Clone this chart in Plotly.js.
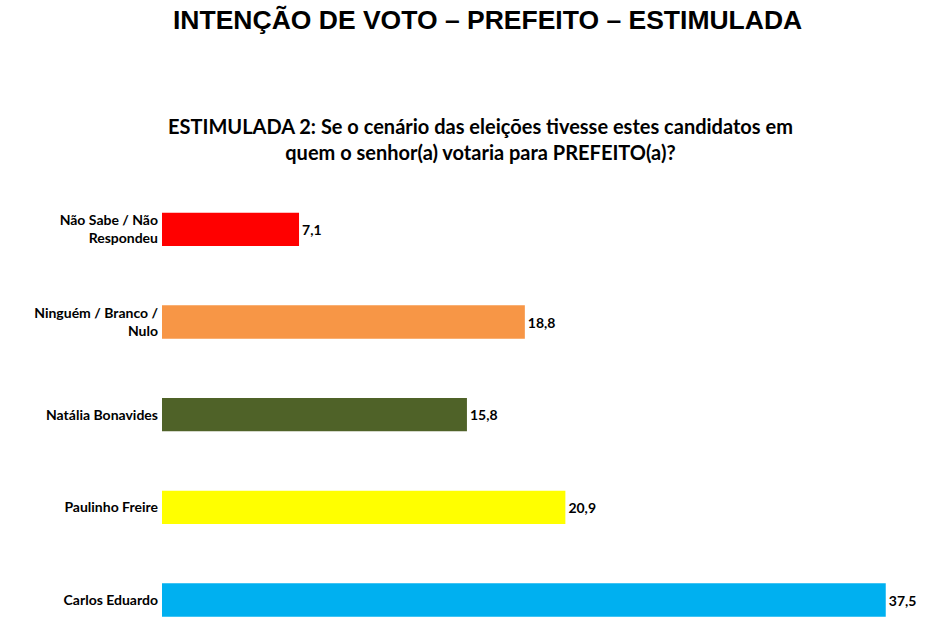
<!DOCTYPE html>
<html>
<head>
<meta charset="utf-8">
<script src="https://cdn.plot.ly/plotly-3.0.1.min.js"></script>
<style>
  html, body { margin: 0; padding: 0; background: white; }
  #chart { width: 950px; height: 629px; }
</style>
</head>
<body>
<div id="chart"></div>
<script>
// Stimulated vote intention - horizontal bars (bottom to top)
const candidates = [
    'Carlos Eduardo',
    'Paulinho Freire',
    'Natália Bonavides',
    'Ninguém / Branco /<br>Nulo',
    'Não Sabe / Não<br>Respondeu'
];
const votes = [37.5, 20.9, 15.8, 18.8, 7.1];
const barColors = ['#00B0F0', '#FFFF00', '#4F6228', '#F79646', '#FF0000'];

const mainTitle = 'INTENÇÃO DE VOTO – PREFEITO – ESTIMULADA';
const subTitle = 'ESTIMULADA 2: Se o cenário das eleições tivesse estes candidatos em<br>quem o senhor(a) votaria para PREFEITO(a)?';

const barData = [{
    type: 'bar',
    orientation: 'h',
    y: candidates,
    x: votes,
    marker: {color: barColors},
    texttemplate: '%{x:.1f}',
    textposition: 'outside',
    cliponaxis: false,
    textfont: {family: 'Lato, sans-serif', size: 14, color: '#000000', weight: 'bold'},
    hoverinfo: 'skip'
}];

const layout = {
    width: 950,
    height: 629,
    separators: ',.',
    bargap: 0.64,
    showlegend: false,
    margin: {l: 162, r: 16, t: 183, b: 0},
    xaxis: {
        range: [0, 40],
        visible: false,
        fixedrange: true
    },
    yaxis: {
        type: 'category',
        range: [-0.313, 4.5],
        showgrid: false,
        zeroline: false,
        showline: false,
        ticks: '',
        ticklabelstandoff: 3,
        tickfont: {family: 'Lato, sans-serif', size: 14, color: '#000000', weight: 'bold'}
    },
    annotations: [
        {
            text: '<b>' + mainTitle + '</b>',
            xref: 'paper', yref: 'paper',
            x: 0.5, xshift: -61, y: 1, yshift: 163,
            yanchor: 'middle', xanchor: 'center',
            showarrow: false,
            font: {family: 'Liberation Sans, Arial, sans-serif', size: 26.5, color: '#000000'}
        },
        {
            text: '<b>' + subTitle + '</b>',
            xref: 'paper', yref: 'paper',
            x: 0.5, xshift: -68, y: 1, yshift: 44,
            yanchor: 'middle', xanchor: 'center',
            showarrow: false,
            font: {family: 'Lato, sans-serif', size: 20, color: '#000000'}
        }
    ],
    plot_bgcolor: 'white',
    paper_bgcolor: 'white'
};

Plotly.newPlot('chart', barData, layout, {displayModeBar: false, staticPlot: true});
</script>
</body>
</html>
